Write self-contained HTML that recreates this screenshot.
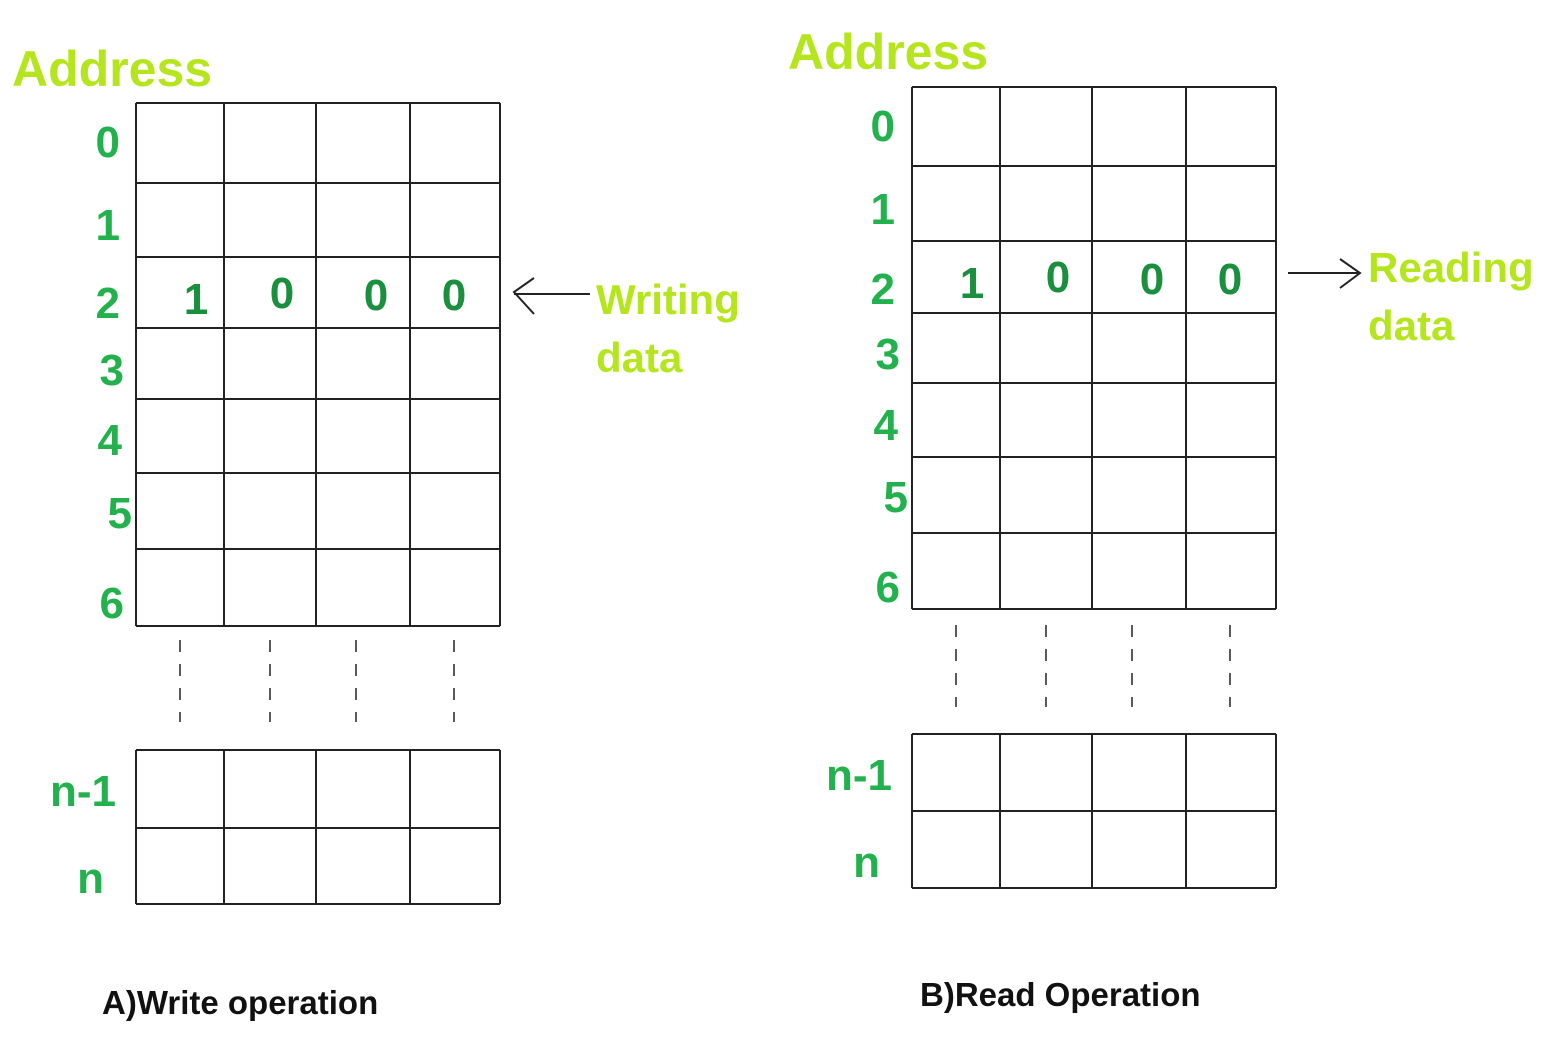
<!DOCTYPE html>
<html><head><meta charset="utf-8"><style>
html,body{margin:0;padding:0;background:#fff;width:1546px;height:1052px;overflow:hidden}
svg text{font-family:"Liberation Sans",sans-serif;font-weight:bold}
</style></head><body>
<svg width="1546" height="1052">
<g id="g"></g>
</svg>
<script>
const ns="http://www.w3.org/2000/svg";
const g=document.getElementById('g');
const LIME="#b5e61d",GREEN="#22b14c",DARK="#1a8f3e";
const addrLabels=["0","1","2","3","4","5","6"];
const endLabels=["n-1","n"];
const bits=["1","0","0","0"];
function el(t,a,txt){const e=document.createElementNS(ns,t);for(const k in a)e.setAttribute(k,a[k]);if(txt!==undefined)e.textContent=txt;g.appendChild(e);return e;}
function line(x1,y1,x2,y2,dash){const e=el('line',{x1,y1,x2,y2,stroke:'#222','stroke-width':2});if(dash){e.setAttribute('stroke-dasharray',dash);e.setAttribute('stroke-width',1.5);}

return e;}
function grid(xs,ys){ys.forEach(y=>line(xs[0],y,xs[xs.length-1],y));xs.forEach(x=>line(x,ys[0],x,ys[ys.length-1]));}
function txt(x,y,s,size,fill,anchor,name){const e=el('text',{x,y,'font-size':size,fill,'text-anchor':anchor||'start'},s);

return e;}
function panel(P){
 grid(P.xs,P.rows);grid(P.xs,P.brows);
 P.dashX.forEach(x=>line(x,P.dashY[0],x,P.dashY[1],'12,12'));
 txt(P.addrX,P.addrY,"Address",50,LIME,'start','address-title');
 addrLabels.forEach((l,i)=>txt(P.lblX[i],P.lblY[i],l,44,GREEN,'end','address-label-'+l));
 endLabels.forEach((l,i)=>txt(P.endX[i],P.endY[i],l,44,GREEN,'end','address-label-'+l));
 bits.forEach((b,i)=>txt(P.bitX[i],P.bitY[i],b,44,DARK,'middle','data-bit'));
 txt(P.capX,P.capY,P.cap,33,'#111','start','caption');
}
panel({xs:[136,224,316,410,500],rows:[103,183,257,328,399,473,549,626],brows:[750,828,904],
 dashX:[180,270,356,454],dashY:[640,722],addrX:12,addrY:86,
 lblX:[120,120,120,124,122,132,124],lblY:[157,240,318,385,455,528,618],
 endX:[116,104],endY:[806,893],bitX:[196,282,376,454],bitY:[314,308,310,310],
 capX:102,capY:1014,cap:"A)Write operation"});
panel({xs:[912,1000,1092,1186,1276],rows:[87,166,241,313,383,457,533,609],brows:[734,811,888],
 dashX:[956,1046,1132,1230],dashY:[625,707],addrX:788,addrY:69,
 lblX:[895,895,895,900,898,908,900],lblY:[141,224,304,369,440,512,602],
 endX:[892,880],endY:[790,877],bitX:[972,1058,1152,1230],bitY:[298,292,294,294],
 capX:920,capY:1006,cap:"B)Read Operation"});
el('path',{d:"M590 294 L514 294 M534 278 L514 292 L534 314",stroke:'#222','stroke-width':2,fill:'none'});
el('path',{d:"M1288 273 L1358 273 M1340 259 L1360 273 L1340 288",stroke:'#222','stroke-width':2,fill:'none'});
txt(596,314,"Writing",42,LIME,'start','writing-label');
txt(596,372,"data",42,LIME,'start','writing-label-2');
txt(1368,282,"Reading",42,LIME,'start','reading-label');
txt(1368,340,"data",42,LIME,'start','reading-label-2');
</script>
</body></html>
